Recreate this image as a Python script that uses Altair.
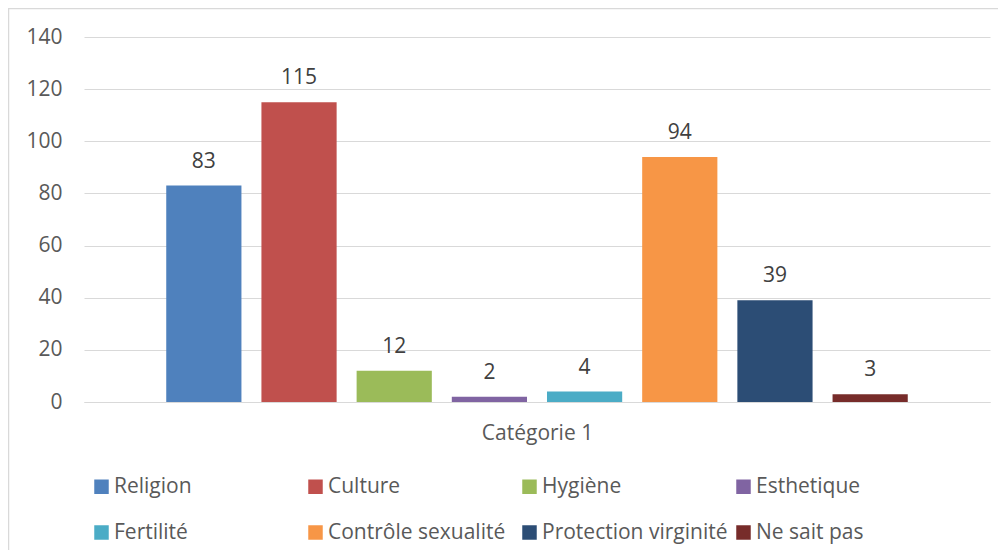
import altair as alt
import pandas as pd

# ---- data ----
series = ["Religion", "Culture", "Hygiène", "Esthetique", "Fertilité",
          "Contrôle sexualité", "Protection virginité", "Ne sait pas"]
values = [83, 115, 12, 2, 4, 94, 39, 3]
colors = ["#4F81BD", "#C0504D", "#9BBB59", "#8064A2", "#4BACC6",
          "#F79646", "#2C4D75", "#772C2A"]
y_ticks = [0, 20, 40, 60, 80, 100, 120, 140]
category = "Catégorie 1"

df = pd.DataFrame({"serie": series, "valeur": values})

FONT = "Open Sans"
FS = 21
GRID = "#D9D9D9"
TXT = "#595959"

x_enc = alt.X(
    "serie:N", sort=series,
    scale=alt.Scale(paddingInner=0.21, paddingOuter=0.864),
    axis=alt.Axis(labels=False, ticks=False, domain=True, domainColor=GRID,
                  domainWidth=1, title=category, titleFont=FONT,
                  titleFontSize=FS, titleColor=TXT, titleFontWeight="normal",
                  titlePadding=20),
)
y_enc = alt.Y(
    "valeur:Q",
    scale=alt.Scale(domain=[0, 140]),
    axis=alt.Axis(values=y_ticks, title=None, domain=False, ticks=False,
                  grid=True, gridColor=GRID, gridWidth=1, labelPadding=22,
                  labelFont=FONT, labelFontSize=FS, labelColor=TXT),
)
color_enc = alt.Color(
    "serie:N",
    scale=alt.Scale(domain=series, range=colors),
    legend=alt.Legend(title=None, orient="none", legendX=7, legendY=439,
                      columns=4, direction="horizontal", gridAlign="all",
                      symbolType="square", symbolSize=210,
                      symbolStrokeWidth=0, labelFont=FONT, labelFontSize=FS,
                      labelColor=TXT, labelOffset=2, labelLimit=400,
                      columnPadding=5, rowPadding=24),
)

base = alt.Chart(df)
bars = base.mark_bar().encode(x=x_enc, y=y_enc, color=color_enc)
labels = base.mark_text(font=FONT, fontSize=FS, color="#404040",
                        baseline="alphabetic", dy=-18).encode(
    x=alt.X("serie:N", sort=series), y="valeur:Q", text="valeur:Q")

border = alt.Chart(pd.DataFrame({"k": [0]})).mark_rect(
    fill=None, stroke=GRID, strokeWidth=1.5).encode(
    x=alt.value(-75.5), x2=alt.value(1100),
    y=alt.value(-28.5), y2=alt.value(700))

chart = alt.layer(border, bars, labels).properties(
    width=906, height=365,
    padding={"left": 76, "top": 29, "right": 8, "bottom": 148},
    autosize=alt.AutoSizeParams(type="none"),
).configure_view(stroke=None)

chart.save("out.html", embed_options={"renderer": "svg", "actions": False})
